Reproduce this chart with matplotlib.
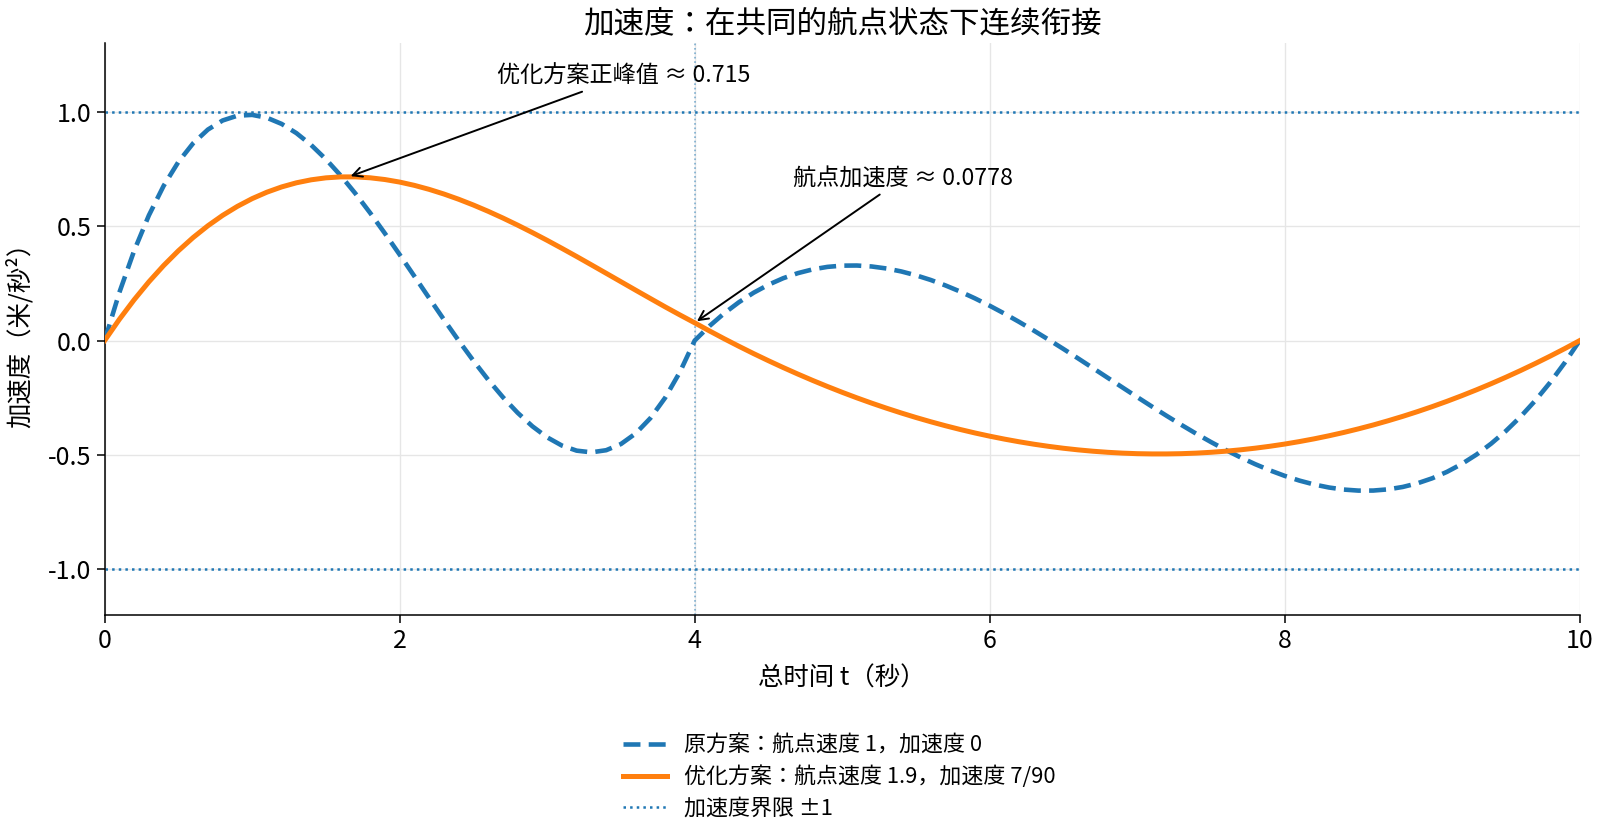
import matplotlib
matplotlib.use("Agg")
import matplotlib.pyplot as plt

plt.rcParams['font.family'] = ['Noto Sans CJK JP', 'DejaVu Sans']
plt.rcParams['axes.unicode_minus'] = False

# ---- data ----
time_s = [round(i * 0.1, 1) for i in range(101)]

acc_original = [
    0.0, 0.2108, 0.3929, 0.5478, 0.6768, 0.7814, 0.8629, 0.9228, 0.9626, 0.9835,
    0.9870, 0.9745, 0.9475, 0.9073, 0.8554, 0.7931, 0.7219, 0.6432, 0.5584, 0.4688,
    0.3760, 0.2813, 0.1861, 0.0919, 0.0, -0.0881, -0.1711, -0.2475, -0.3158, -0.3748,
    -0.4230, -0.4590, -0.4813, -0.4886, -0.4794, -0.4524, -0.4061, -0.3391, -0.2500, -0.1375,
    0.0, 0.0634, 0.1192, 0.1678, 0.2094, 0.2442, 0.2727, 0.2950, 0.3114, 0.3223,
    0.3278, 0.3283, 0.3241, 0.3154, 0.3025, 0.2856, 0.2652, 0.2413, 0.2144, 0.1847,
    0.1525, 0.1181, 0.0816, 0.0435, 0.0040, -0.0366, -0.0781, -0.1202, -0.1625, -0.2048,
    -0.2469, -0.2884, -0.3291, -0.3687, -0.4070, -0.4435, -0.4781, -0.5105, -0.5403, -0.5674,
    -0.5915, -0.6122, -0.6293, -0.6424, -0.6514, -0.6560, -0.6558, -0.6506, -0.6401, -0.6241,
    -0.6022, -0.5741, -0.5397, -0.4986, -0.4505, -0.3951, -0.3323, -0.2616, -0.1829, -0.0957,
    0.0]

acc_optimized = [
    0.0, 0.0931, 0.1786, 0.2570, 0.3283, 0.3928, 0.4507, 0.5022, 0.5476, 0.5870,
    0.6208, 0.6490, 0.6720, 0.6900, 0.7031, 0.7117, 0.7159, 0.7159, 0.7119, 0.7043,
    0.6932, 0.6788, 0.6613, 0.6410, 0.6181, 0.5928, 0.5654, 0.5360, 0.5049, 0.4723,
    0.4384, 0.4034, 0.3677, 0.3312, 0.2944, 0.2575, 0.2205, 0.1839, 0.1475, 0.1122,
    0.0778, 0.0425, 0.0082, -0.0249, -0.0570, -0.0879, -0.1178, -0.1465, -0.1742, -0.2007,
    -0.2261, -0.2504, -0.2735, -0.2955, -0.3164, -0.3362, -0.3548, -0.3723, -0.3887, -0.4039,
    -0.4179, -0.4308, -0.4425, -0.4531, -0.4625, -0.4708, -0.4779, -0.4838, -0.4885, -0.4921,
    -0.4945, -0.4956, -0.4956, -0.4945, -0.4921, -0.4885, -0.4837, -0.4777, -0.4705, -0.4621,
    -0.4525, -0.4416, -0.4296, -0.4163, -0.4018, -0.3860, -0.3691, -0.3508, -0.3314, -0.3107,
    -0.2888, -0.2656, -0.2411, -0.2154, -0.1884, -0.1602, -0.1307, -0.0999, -0.0679, -0.0346,
    0.0]

acc_limit = 1.0
waypoint_t = 4.0
peak_t, peak_val = 1.65, 0.715
waypoint_acc = 0.0778

x_ticks = [0, 2, 4, 6, 8, 10]
y_ticks = [-1.0, -0.5, 0.0, 0.5, 1.0]
y_ticklabels = ['-1.0', '-0.5', '0.0', '0.5', '1.0']

label_original = '原方案：航点速度 1，加速度 0'
label_optimized = '优化方案：航点速度 1.9，加速度 7/90'
label_limit = '加速度界限 ±1'

# ---- figure ----
fig = plt.figure(figsize=(16, 8.33), dpi=100)
ax = fig.add_axes([0.0654, 0.2617, 0.9219, 0.6863])

blue = '#1f77b4'
orange = '#ff7f0e'

l1, = ax.plot(time_s, acc_original, color=blue, lw=3.3, ls=(0, (3.7, 1.8)),
              label=label_original, zorder=3)
l2, = ax.plot(time_s, acc_optimized, color=orange, lw=3.6, label=label_optimized, zorder=3)
l3 = ax.axhline(acc_limit, color=blue, ls=':', lw=1.8, label=label_limit, zorder=2)
ax.axhline(-acc_limit, color=blue, ls=':', lw=1.8, zorder=2)
ax.axvline(waypoint_t, color=blue, ls=':', lw=1.2, alpha=0.55, zorder=2)

ax.set_xlim(0, 10)
ax.set_ylim(-1.2, 1.3)
ax.set_xticks(x_ticks)
ax.set_xticklabels([str(v) for v in x_ticks])
ax.set_yticks(y_ticks)
ax.set_yticklabels(y_ticklabels)
ax.tick_params(labelsize=18, length=6, width=1.1)
ax.grid(True, color='#e6e6e6', lw=1.0)
ax.set_axisbelow(True)

for s in ['top', 'right']:
    ax.spines[s].set_visible(False)
for s in ['left', 'bottom']:
    ax.spines[s].set_linewidth(1.1)

ax.set_title('加速度：在共同的航点状态下连续衔接', fontsize=22, pad=8)
ax.set_xlabel('总时间 t（秒）', fontsize=18.3, labelpad=8)
ax.set_ylabel('加速度（米/秒²）', fontsize=18.3, labelpad=10)

ax.annotate(f'优化方案正峰值 ≈ {peak_val}', xy=(peak_t, peak_val), xytext=(3.52, 1.155),
            ha='center', va='center', fontsize=16.7,
            arrowprops=dict(arrowstyle='->', color='black', lw=1.4))
ax.annotate(f'航点加速度 ≈ {waypoint_acc}', xy=(waypoint_t, waypoint_acc), xytext=(5.41, 0.708),
            ha='center', va='center', fontsize=16.7,
            arrowprops=dict(arrowstyle='->', color='black', lw=1.4))

fig.legend([l1, l2, l3], [label_original, label_optimized, label_limit],
           loc='upper center', bbox_to_anchor=(0.5245, 0.142), frameon=False,
           fontsize=15.8, handlelength=2.0, labelspacing=0.42)

fig.savefig('out.png', dpi=100)
